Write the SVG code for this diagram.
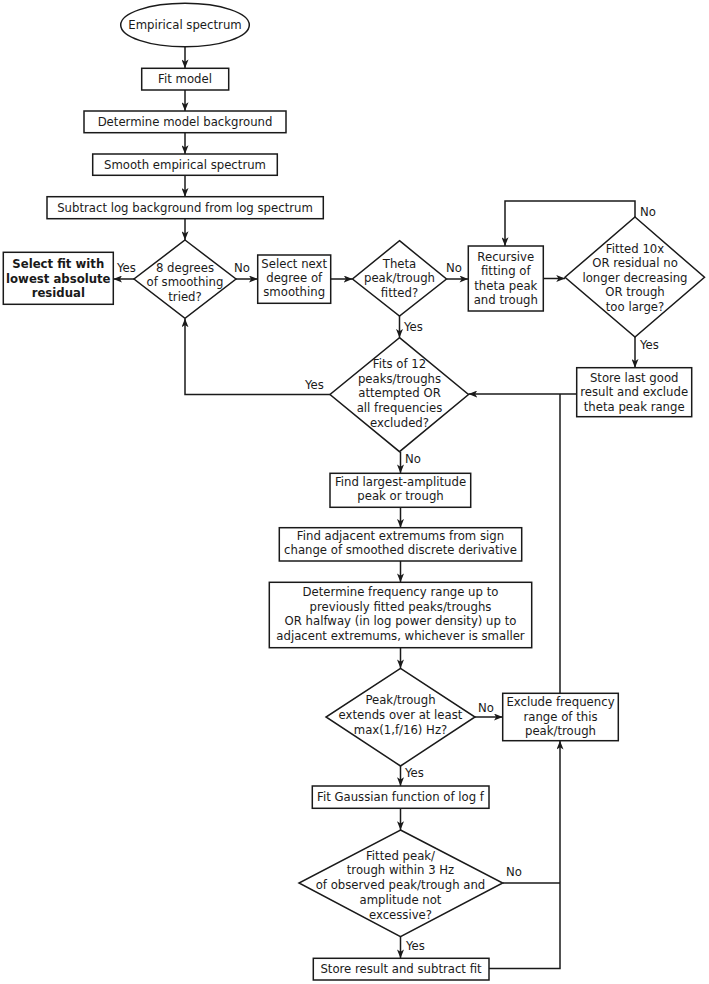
<svg xmlns="http://www.w3.org/2000/svg" width="709" height="984" viewBox="0 0 709 984">
<defs>
<style>
.n{fill:#fff;stroke:#1a1a1a;stroke-width:1.5}
.t{font-family:"DejaVu Sans",sans-serif;font-size:11.7px;fill:#1a1a1a;text-anchor:middle}
.b{font-weight:bold}
.l{font-family:"DejaVu Sans",sans-serif;font-size:11.7px;fill:#1a1a1a}
.c{fill:none;stroke:#1a1a1a;stroke-width:1.5}
</style>
<marker id="a" viewBox="0 0 10 8" refX="10" refY="4" markerWidth="9" markerHeight="7" markerUnits="userSpaceOnUse" orient="auto">
<path d="M0,0 L10,4 L0,8 L2.5,4 Z" fill="#1a1a1a"/>
</marker>
</defs>
<rect width="709" height="984" fill="#fff"/>

<g id="connectors">
<path class="c" d="M185,46.7 V68.3" marker-end="url(#a)"/>
<path class="c" d="M185,90 V111" marker-end="url(#a)"/>
<path class="c" d="M185,132.7 V154" marker-end="url(#a)"/>
<path class="c" d="M185,175.3 V196.7" marker-end="url(#a)"/>
<path class="c" d="M185,218.7 V240" marker-end="url(#a)"/>
<path class="c" d="M134,279 H113.3" marker-end="url(#a)"/>
<path class="c" d="M236,279 H257.7" marker-end="url(#a)"/>
<path class="c" d="M330.7,279 H352.5" marker-end="url(#a)"/>
<path class="c" d="M446.5,279 H468.3" marker-end="url(#a)"/>
<path class="c" d="M543.3,278.5 H565" marker-end="url(#a)"/>
<path class="c" d="M635,217 V201 H505 V246" marker-end="url(#a)"/>
<path class="c" d="M635,337 V367.7" marker-end="url(#a)"/>
<path class="c" d="M576.7,394 H468.5" marker-end="url(#a)"/>
<path class="c" d="M399.5,316 V337.7" marker-end="url(#a)"/>
<path class="c" d="M330,394.5 H185 V318.5" marker-end="url(#a)"/>
<path class="c" d="M400.5,451.7 V473.3" marker-end="url(#a)"/>
<path class="c" d="M400.5,507.3 V527.7" marker-end="url(#a)"/>
<path class="c" d="M400.5,561 V582.3" marker-end="url(#a)"/>
<path class="c" d="M400.5,647.7 V668.3" marker-end="url(#a)"/>
<path class="c" d="M475,717 H502.7" marker-end="url(#a)"/>
<path class="c" d="M560,693.3 V394"/>
<path class="c" d="M400.5,766 V786" marker-end="url(#a)"/>
<path class="c" d="M400.5,808.3 V830" marker-end="url(#a)"/>
<path class="c" d="M502.7,883 H560"/>
<path class="c" d="M400.5,936.7 V958.3" marker-end="url(#a)"/>
<path class="c" d="M489,968.5 H560 V740.7" marker-end="url(#a)"/>
<text class="l" x="117" y="272">Yes</text>
<text class="l" x="234" y="272">No</text>
<text class="l" x="446" y="272">No</text>
<text class="l" x="640" y="216">No</text>
<text class="l" x="640" y="349">Yes</text>
<text class="l" x="404" y="331">Yes</text>
<text class="l" x="305" y="389">Yes</text>
<text class="l" x="405" y="463">No</text>
<text class="l" x="478" y="712">No</text>
<text class="l" x="405" y="777">Yes</text>
<text class="l" x="506" y="876">No</text>
<text class="l" x="406" y="950">Yes</text>
</g>

<g id="start">
<ellipse class="n" cx="185" cy="25" rx="64.3" ry="21.7"/>
<text class="t" x="185" y="29">Empirical spectrum</text>
</g>
<g id="fit-model">
<rect class="n" x="141.7" y="68.3" width="87" height="21.7"/>
<text class="t" x="185" y="83.2">Fit model</text>
</g>
<g id="determine-background">
<rect class="n" x="84" y="111" width="202" height="21.7"/>
<text class="t" x="185" y="126">Determine model background</text>
</g>
<g id="smooth">
<rect class="n" x="92.7" y="154" width="184.6" height="21.3"/>
<text class="t" x="185" y="168.8">Smooth empirical spectrum</text>
</g>
<g id="subtract">
<rect class="n" x="47" y="196.7" width="276.3" height="22"/>
<text class="t" x="185" y="211.8">Subtract log background from log spectrum</text>
</g>
<g id="degrees-tried">
<path class="n" d="M185,240 L236,279 L185,318.3 L134,279 Z"/>
<text class="t" x="185" y="271.5">8 degrees</text>
<text class="t" x="185" y="286">of smoothing</text>
<text class="t" x="185" y="300.5">tried?</text>
</g>
<g id="select-fit">
<rect class="n" x="3.3" y="252.3" width="110" height="52"/>
<text class="t b" x="58.3" y="267.5">Select fit with</text>
<text class="t b" x="58.3" y="282.5">lowest absolute</text>
<text class="t b" x="58.3" y="297">residual</text>
</g>
<g id="select-next">
<rect class="n" x="257.7" y="255" width="73" height="48.3"/>
<text class="t" x="294.2" y="267.5">Select next</text>
<text class="t" x="294.2" y="282">degree of</text>
<text class="t" x="294.2" y="296">smoothing</text>
</g>
<g id="theta-fitted">
<path class="n" d="M399.5,240.7 L446.5,279 L399.5,316 L352.5,279 Z"/>
<text class="t" x="399.5" y="267.5">Theta</text>
<text class="t" x="399.5" y="282">peak/trough</text>
<text class="t" x="399.5" y="296.5">fitted?</text>
</g>
<g id="recursive">
<rect class="n" x="468.3" y="246" width="75" height="65"/>
<text class="t" x="505.8" y="260.5">Recursive</text>
<text class="t" x="505.8" y="275">fitting of</text>
<text class="t" x="505.8" y="289.5">theta peak</text>
<text class="t" x="505.8" y="304">and trough</text>
</g>
<g id="fitted-10x">
<path class="n" d="M635,217 L704.5,277.3 L635,337 L565,277.3 Z"/>
<text class="t" x="635" y="252.5">Fitted 10x</text>
<text class="t" x="635" y="267">OR residual no</text>
<text class="t" x="635" y="281.7">longer decreasing</text>
<text class="t" x="635" y="296">OR trough</text>
<text class="t" x="635" y="310.5">too large?</text>
</g>
<g id="store-last-good">
<rect class="n" x="576.7" y="367.7" width="115" height="49"/>
<text class="t" x="634.2" y="381.7">Store last good</text>
<text class="t" x="634.2" y="396.3">result and exclude</text>
<text class="t" x="634.2" y="410.7">theta peak range</text>
</g>
<g id="fits-12">
<path class="n" d="M399.5,337.7 L468.5,394.5 L399.5,451.7 L330,394.5 Z"/>
<text class="t" x="399.5" y="368">Fits of 12</text>
<text class="t" x="399.5" y="383">peaks/troughs</text>
<text class="t" x="399.5" y="397.3">attempted OR</text>
<text class="t" x="399.5" y="412">all frequencies</text>
<text class="t" x="399.5" y="426.5">excluded?</text>
</g>
<g id="find-largest">
<rect class="n" x="330" y="473.3" width="140.7" height="34"/>
<text class="t" x="400.5" y="485.7">Find largest-amplitude</text>
<text class="t" x="400.5" y="500">peak or trough</text>
</g>
<g id="find-adjacent">
<rect class="n" x="279.3" y="527.7" width="242.4" height="33.3"/>
<text class="t" x="400.5" y="540">Find adjacent extremums from sign</text>
<text class="t" x="400.5" y="554">change of smoothed discrete derivative</text>
</g>
<g id="determine-range">
<rect class="n" x="269.3" y="582.3" width="262.4" height="65.4"/>
<text class="t" x="400.5" y="596">Determine frequency range up to</text>
<text class="t" x="400.5" y="610.7">previously fitted peaks/troughs</text>
<text class="t" x="400.5" y="625.3">OR halfway (in log power density) up to</text>
<text class="t" x="400.5" y="640">adjacent extremums, whichever is smaller</text>
</g>
<g id="extends-over">
<path class="n" d="M400.5,668.3 L475,717 L400.5,766 L326,717 Z"/>
<text class="t" x="400.5" y="704">Peak/trough</text>
<text class="t" x="400.5" y="719">extends over at least</text>
<text class="t" x="400.5" y="734">max(1,f/16) Hz?</text>
</g>
<g id="exclude-range">
<rect class="n" x="502.7" y="693.3" width="115.6" height="47.4"/>
<text class="t" x="560.5" y="706.3">Exclude frequency</text>
<text class="t" x="560.5" y="720.7">range of this</text>
<text class="t" x="560.5" y="735.3">peak/trough</text>
</g>
<g id="fit-gaussian">
<rect class="n" x="312.3" y="786" width="176.7" height="22.3"/>
<text class="t" x="400.5" y="801">Fit Gaussian function of log f</text>
</g>
<g id="fitted-within">
<path class="n" d="M400.5,830 L502.7,883 L400.5,936.7 L299,883 Z"/>
<text class="t" x="400.5" y="859.7">Fitted peak/</text>
<text class="t" x="400.5" y="874.3">trough within 3 Hz</text>
<text class="t" x="400.5" y="889">of observed peak/trough and</text>
<text class="t" x="400.5" y="904">amplitude not</text>
<text class="t" x="400.5" y="919">excessive?</text>
</g>
<g id="store-result">
<rect class="n" x="313.3" y="958.3" width="175.7" height="21.7"/>
<text class="t" x="401" y="973">Store result and subtract fit</text>
</g>
</svg>
